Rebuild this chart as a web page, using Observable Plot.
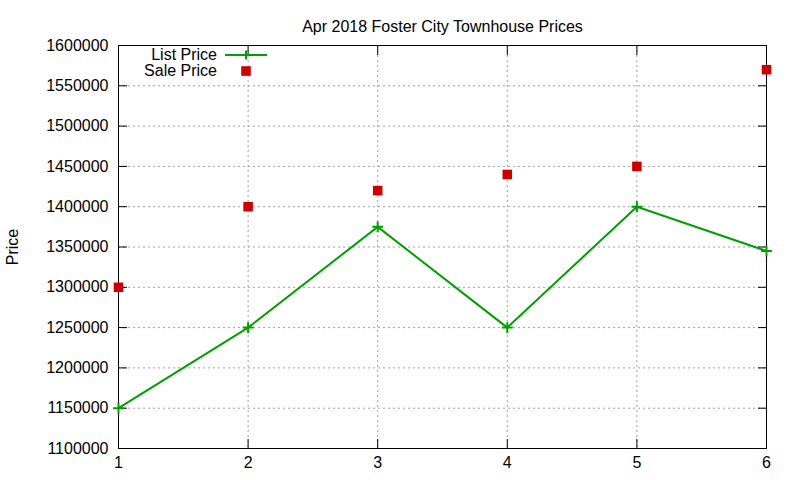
<!DOCTYPE html>
<html><head><meta charset="utf-8">
<script src="https://cdn.jsdelivr.net/npm/d3@7"></script>
<script src="https://cdn.jsdelivr.net/npm/@observablehq/plot@0.6"></script>
<style>body{margin:0;background:#fff}#chart{width:800px;height:480px}</style>
</head><body><div id="chart"></div>
<script>
const title = "Apr 2018 Foster City Townhouse Prices";
const yLabel = "Price";
const months = [1, 2, 3, 4, 5, 6];
const listPrice = [1150000, 1250000, 1375000, 1250000, 1400000, 1345000];
const salePrice = [1300000, 1400000, 1420000, 1440000, 1450000, 1570000];
const seriesNames = ["List Price", "Sale Price"];
const yTicks = [1100000, 1150000, 1200000, 1250000, 1300000, 1350000, 1400000, 1450000, 1500000, 1550000, 1600000];
const xTicks = [1, 2, 3, 4, 5, 6];

const listData = months.map((m, i) => ({x: m, y: listPrice[i]}));
const saleData = months.map((m, i) => ({x: m, y: salePrice[i]}));

const GREEN = "#00a000", RED = "#cc0000", GRID = "#a0a0a0";
const font = "'Liberation Sans', Arial, sans-serif";
const fs = 16;

const plot = Plot.plot({
  width: 800, height: 480,
  marginLeft: 118, marginRight: 34, marginTop: 45, marginBottom: 32,
  style: {fontFamily: font, fontSize: fs + "px", color: "#000", background: "#fff"},
  x: {domain: [1, 6]},
  y: {domain: [1100000, 1600000]},
  marks: [
    Plot.gridY(yTicks, {stroke: GRID, strokeOpacity: 1, strokeDasharray: "2,3"}),
    Plot.gridX(xTicks, {stroke: GRID, strokeOpacity: 1, strokeDasharray: "2,3"}),
    Plot.axisY({ticks: yTicks, anchor: "left", tickSize: 0, tickPadding: 10, tickFormat: d => String(d),
      label: yLabel, labelAnchor: "center", labelOffset: 112, labelArrow: "none", fontSize: fs}),
    Plot.axisY({ticks: yTicks, anchor: "left", tickSize: -9, tickFormat: () => "", label: null}),
    Plot.axisY({ticks: yTicks, anchor: "right", tickSize: -9, tickFormat: () => "", label: null}),
    Plot.axisX({ticks: xTicks, anchor: "bottom", tickSize: 0, tickPadding: 8, tickFormat: d => String(d), label: null, fontSize: fs}),
    Plot.axisX({ticks: xTicks, anchor: "bottom", tickSize: -9, tickFormat: () => "", label: null}),
    Plot.axisX({ticks: xTicks, anchor: "top", tickSize: -9, tickFormat: () => "", label: null}),
    Plot.frame({stroke: "#000", strokeWidth: 1}),
    Plot.line(listData, {x: "x", y: "y", stroke: GREEN, strokeWidth: 2}),
    Plot.dot(listData, {x: "x", y: "y", symbol: "plus", r: 3.6, stroke: GREEN, strokeWidth: 2}),
    Plot.dot(saleData, {x: "x", y: "y", symbol: "square", r: 5.4, fill: RED, stroke: null}),
    Plot.text([title], {frameAnchor: "top", dy: -25, fontSize: fs})
  ]
});
document.getElementById("chart").appendChild(plot);

// legend (key box, top-left inside the frame)
const svg = d3.select(plot);
const lg = svg.append("g").attr("font-family", font).attr("font-size", fs);
const keyX1 = 225, keyX2 = 267, keyMid = 246, textEnd = 217, rows = [55, 71];
lg.append("text").attr("x", textEnd).attr("y", rows[0]).attr("dy", "0.32em").attr("text-anchor", "end").text(seriesNames[0]);
lg.append("line").attr("x1", keyX1).attr("x2", keyX2).attr("y1", rows[0]).attr("y2", rows[0]).attr("stroke", GREEN).attr("stroke-width", 2);
lg.append("path").attr("d", `M${keyMid - 4.5},${rows[0]}h9M${keyMid},${rows[0] - 4.5}v9`).attr("stroke", GREEN).attr("stroke-width", 2);
lg.append("text").attr("x", textEnd).attr("y", rows[1]).attr("dy", "0.32em").attr("text-anchor", "end").text(seriesNames[1]);
lg.append("rect").attr("x", keyMid - 4.8).attr("y", rows[1] - 4.8).attr("width", 9.6).attr("height", 9.6).attr("fill", RED);
</script></body></html>
